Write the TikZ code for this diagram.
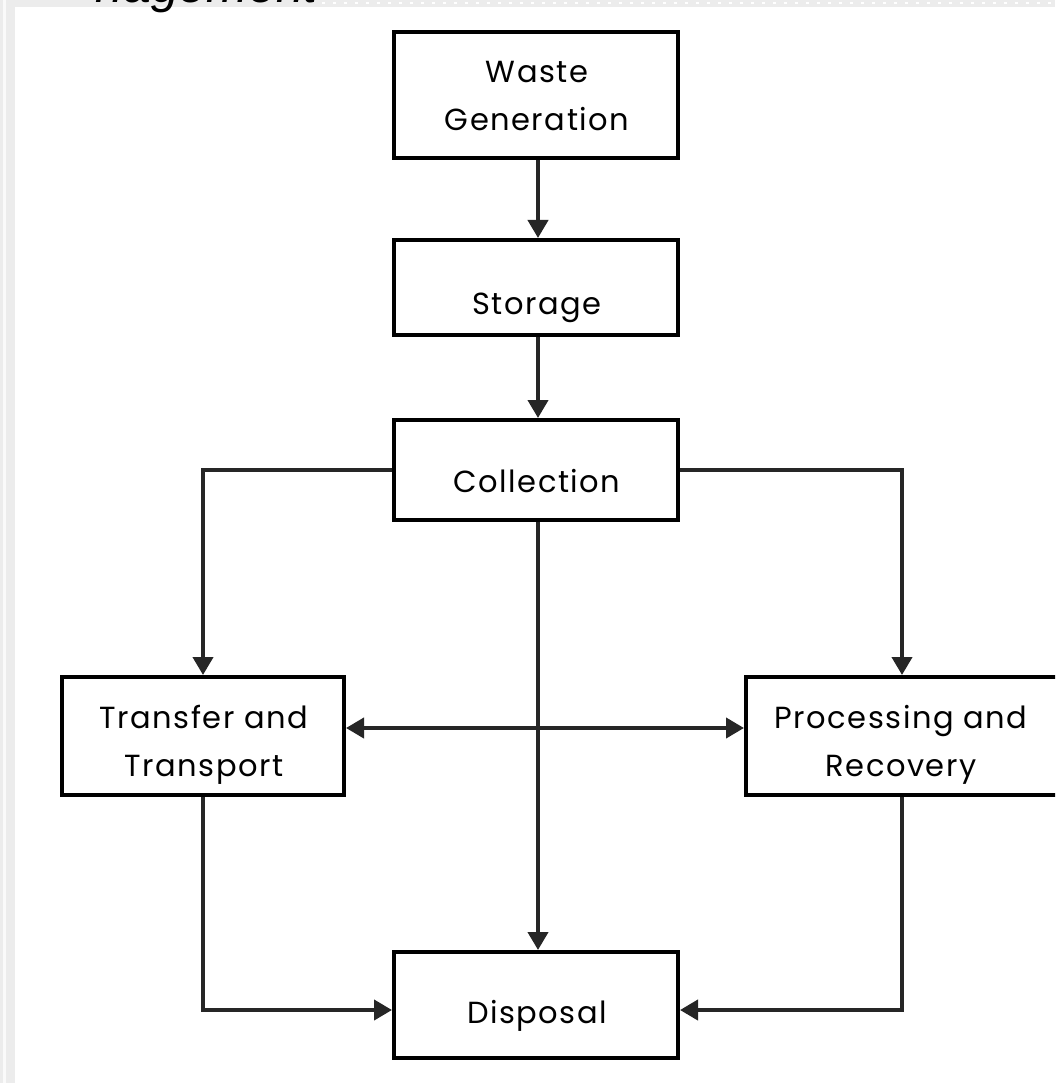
\documentclass[tikz,border=0pt]{standalone}
\usepackage{fontspec}
\setmainfont{Poppins}[LetterSpace=5]
\newfontfamily\titlefont{Liberation Sans}
\usetikzlibrary{arrows.meta}
\definecolor{bandgray}{HTML}{ECECEC}
\definecolor{linegray}{HTML}{262626}
\begin{document}
\begin{tikzpicture}[x=1pt,y=-1pt,
  box/.style={draw=black,line width=4pt,inner sep=0pt,minimum width=284pt},
  txt/.style={inner sep=0pt,align=center,anchor=base,font=\fontsize{30.5}{48}\selectfont},
  conn/.style={line width=4pt,draw=linegray,-{Triangle[length=18pt,width=20pt]}},
  both/.style={line width=4pt,draw=linegray,{Triangle[length=18pt,width=20pt]}-{Triangle[length=18pt,width=20pt]}},
]
\useasboundingbox (0,0) rectangle (1055,1083);
\clip (0,0) rectangle (1055,1083);
\fill[white] (0,0) rectangle (1055,1083);
% page furniture
\fill[bandgray] (0,0) rectangle (1055,7);
\draw[white,line width=2pt,dash pattern=on 3pt off 8pt] (322,3) -- (1055,3);
\fill[bandgray] (0,0) rectangle (15,1083);
\fill[gray!4] (3,0) rectangle (6,1083);
\node[anchor=base east,inner sep=0pt,font=\titlefont\fontsize{50}{50}\selectfont\itshape] (title) at (318,3) {nagement};
% boxes
\node[box,minimum height=126pt] (wg) at (536,95) {};
\node[box,minimum height=95pt] (st) at (536,287.5) {};
\node[box,minimum height=100pt] (co) at (536,470) {};
\node[box,minimum width=282pt,minimum height=118pt] (tt) at (203,736) {};
\node[box,minimum width=312pt,minimum height=118pt] (pr) at (902,736) {};
\node[box,minimum height=106pt] (di) at (536,1005) {};
% texts
\node[txt] (wgt) at (537,131) {Waste\\Generation};
\node[txt] (stt) at (537,314) {Storage};
\node[txt] (cot) at (537,492) {Collection};
\node[txt] (ttt) at (204,776) {Transfer and\\Transport};
\node[txt] (prt) at (901,776) {Processing and\\Recovery};
\node[txt] (dit) at (537,1023) {Disposal};
% connectors
\draw[conn] ([xshift=2pt]wg.south) -- ([xshift=2pt]st.north);
\draw[conn] ([xshift=2pt]st.south) -- ([xshift=2pt]co.north);
\draw[conn] ([xshift=2pt]co.south) -- ([xshift=2pt]di.north);
\draw[conn] (co.west) -| (tt.north);
\draw[conn] (co.east) -| (pr.north);
\draw[both] ([yshift=8pt]tt.east) -- ([yshift=8pt]pr.west);
\draw[conn] (tt.south) |- ([yshift=-5pt]di.west);
\draw[conn] (pr.south) |- ([yshift=-5pt]di.east);
\end{tikzpicture}
\end{document}
